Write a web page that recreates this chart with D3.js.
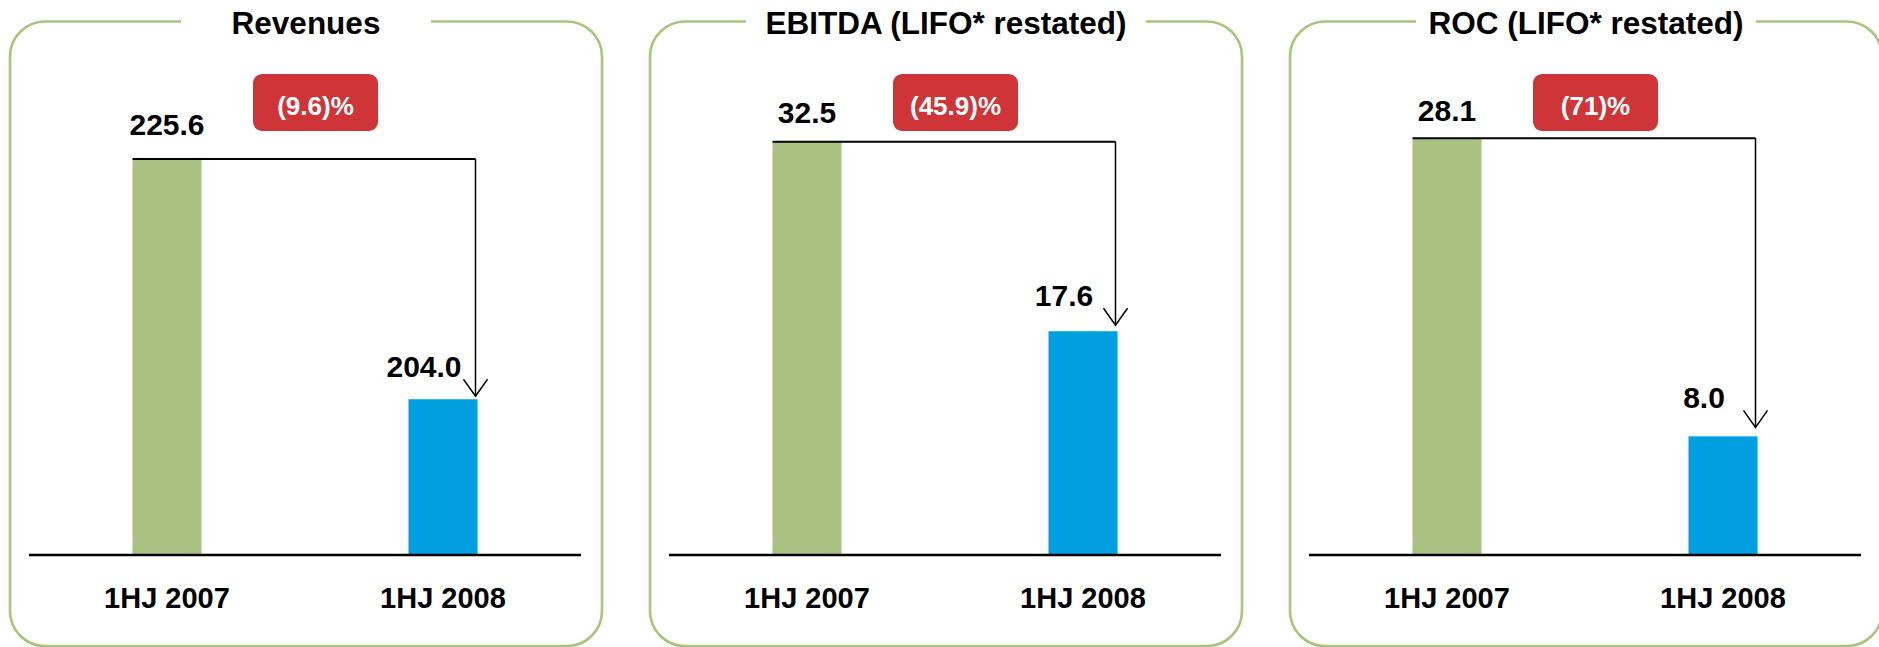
<!DOCTYPE html>
<html>
<head>
<meta charset="utf-8">
<script src="https://cdn.jsdelivr.net/npm/d3@7"></script>
<style>
  html, body { margin: 0; padding: 0; background: #ffffff; }
  svg { display: block; }
  text { font-family: "Liberation Sans", Arial, Helvetica, sans-serif; font-weight: bold; }
</style>
</head>
<body>
<div id="chart"></div>
<script>
// ---- data ----
const categories = ["1HJ 2007", "1HJ 2008"];
const panelTitles = ["Revenues", "EBITDA (LIFO* restated)", "ROC (LIFO* restated)"];
const values2007 = [225.6, 32.5, 28.1];
const values2008 = [204.0, 17.6, 8.0];
const changeLabels = ["(9.6)%", "(45.9)%", "(71)%"];
const yDomainMin = [190, 0, 0];
const yDomainMax = [230, 35, 30];

// ---- layout ----
const W = 1879, H = 647;
const panelLeft = [10, 650, 1290];
const panelWidth = 592;
const frameTop = 21.5, frameBottom = 646, radius = 35;
const titleGapHalf = [125, 200, 170];
const baseY = 555, topY = 110;
const labelDy2007 = [24, 19, 17];
const arrowGap = [3, 6, 9];
const colors = ["#a9c283", "#009fe0"];
const frameColor = "#a9c47f";
const badgeColor = "#cf3538";

const svg = d3.select("#chart").append("svg")
  .attr("width", W).attr("height", H);
svg.append("rect").attr("width", W).attr("height", H).attr("fill", "#fff");

panelTitles.forEach((title, i) => {
  const x0 = panelLeft[i];
  const g = svg.append("g").attr("transform", `translate(${x0},0)`);
  const cx = panelWidth / 2;

  // frame with gap for the title
  const L = 0, R = panelWidth, T = frameTop, B = frameBottom, r = radius;
  const p = d3.path();
  p.moveTo(cx - titleGapHalf[i], T);
  p.lineTo(L + r, T);
  p.arcTo(L, T, L, T + r, r);
  p.lineTo(L, B - r);
  p.arcTo(L, B, L + r, B, r);
  p.lineTo(R - r, B);
  p.arcTo(R, B, R, B - r, r);
  p.lineTo(R, T + r);
  p.arcTo(R, T, R - r, T, r);
  p.lineTo(cx + titleGapHalf[i], T);
  g.append("path").attr("d", p.toString())
    .attr("fill", "none").attr("stroke", frameColor).attr("stroke-width", 2.6);

  g.append("text").attr("x", cx).attr("y", 34)
    .attr("text-anchor", "middle").attr("font-size", 31.5).attr("fill", "#000")
    .text(title);

  // scales
  const x = d3.scaleBand().domain(categories).range([19, 571])
    .paddingInner(0.75).paddingOuter(0.375);
  const y = d3.scaleLinear().domain([yDomainMin[i], yDomainMax[i]]).range([baseY, topY]);
  const vals = [values2007[i], values2008[i]];

  // bars
  g.selectAll("rect.bar").data(vals).join("rect")
    .attr("class", "bar")
    .attr("x", (d, j) => x(categories[j]))
    .attr("y", d => y(d))
    .attr("width", x.bandwidth())
    .attr("height", d => baseY - y(d))
    .attr("fill", (d, j) => colors[j]);

  // axis baseline
  const axis = g.append("g").attr("transform", `translate(0,${baseY})`)
    .call(d3.axisBottom(x).tickSize(0).tickPadding(0));
  axis.select(".domain").attr("stroke", "#000").attr("stroke-width", 2.6)
    .attr("d", `M19,0H571`);
  axis.selectAll(".tick text").remove();
  categories.forEach(c => {
    g.append("text")
      .attr("x", x(c) + x.bandwidth() / 2)
      .attr("y", 608)
      .attr("text-anchor", "middle").attr("font-size", 29).attr("fill", "#000")
      .text(c);
  });

  // connector + arrow
  const xA = x(categories[0]);
  const xArrow = x(categories[1]) + x.bandwidth() - 2;
  const yTop = y(vals[0]);
  const tipY = y(vals[1]) - arrowGap[i];
  g.append("path")
    .attr("d", `M${xA},${yTop}H${xArrow}`)
    .attr("stroke", "#000").attr("stroke-width", 2).attr("fill", "none");
  g.append("path")
    .attr("d", `M${xArrow},${yTop}V${tipY}`)
    .attr("stroke", "#000").attr("stroke-width", 1.5).attr("fill", "none");
  g.append("path")
    .attr("d", `M${xArrow - 12},${tipY - 17}L${xArrow},${tipY}L${xArrow + 12},${tipY - 17}`)
    .attr("stroke", "#000").attr("stroke-width", 1.5).attr("fill", "none");

  // value labels
  const fmt = d3.format(".1f");
  g.append("text")
    .attr("x", x(categories[0]) + x.bandwidth() / 2)
    .attr("y", yTop - labelDy2007[i])
    .attr("text-anchor", "middle").attr("font-size", 30).attr("fill", "#000")
    .text(fmt(vals[0]));
  g.append("text")
    .attr("x", x(categories[1]) + x.bandwidth() / 2 - 19)
    .attr("y", tipY - 19)
    .attr("text-anchor", "middle").attr("font-size", 30).attr("fill", "#000")
    .text(fmt(vals[1]));

  // change badge
  g.append("rect")
    .attr("x", 243).attr("y", 74).attr("width", 125).attr("height", 57)
    .attr("rx", 9).attr("ry", 9).attr("fill", badgeColor);
  g.append("text")
    .attr("x", 305.5).attr("y", 115)
    .attr("text-anchor", "middle").attr("font-size", 26).attr("fill", "#fff")
    .text(changeLabels[i]);
});
</script>
</body>
</html>
